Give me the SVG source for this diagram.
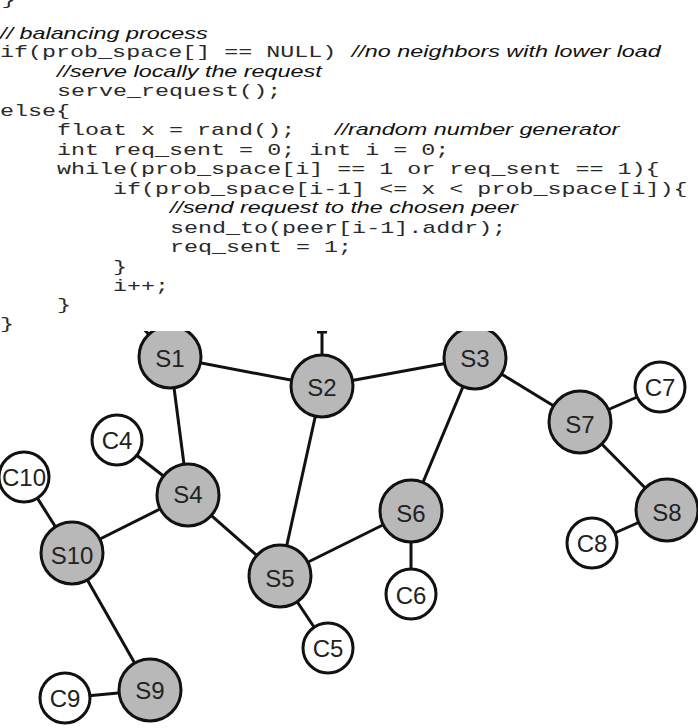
<svg xmlns="http://www.w3.org/2000/svg" width="698" height="728" viewBox="0 0 698 728">
<defs>
<style>
.code{font-family:"Liberation Mono","Courier New",monospace;font-size:16px;fill:#2a2a2a;}
.cmt{font-family:"Liberation Sans",Arial,sans-serif;font-size:16px;font-style:italic;fill:#111;}
.srv circle{fill:#b8b8b8;stroke:#111;stroke-width:3;}
.cli circle{fill:#fff;stroke:#111;stroke-width:3;}
.lbl{font-family:"Liberation Sans",Arial,sans-serif;font-size:24px;fill:#222;text-anchor:middle;dominant-baseline:central;}
.edges line{stroke:#111;stroke-width:3;}
</style>
<clipPath id="gclip"><rect x="0" y="331" width="698" height="397"/></clipPath>
</defs>
<rect width="698" height="728" fill="#fff"/>
<g id="code" transform="scale(1.46,1)" xml:space="preserve">
<text class="code" x="1" y="5">}</text>
<text class="cmt" x="0" y="39">// balancing process</text>
<text class="code" x="0" y="57.5">if(prob_space[] == NULL)</text>
<text class="cmt" x="241" y="57.5">//no neighbors with lower load</text>
<text class="cmt" x="39" y="77">//serve locally the request</text>
<text class="code" x="39" y="96.5">serve_request();</text>
<text class="code" x="0" y="116">else{</text>
<text class="code" x="39" y="135.5">float x = rand();</text>
<text class="cmt" x="229.5" y="135.5">//random number generator</text>
<text class="code" x="39" y="155">int req_sent = 0; int i = 0;</text>
<text class="code" x="39" y="174.5">while(prob_space[i] == 1 or req_sent == 1){</text>
<text class="code" x="77.4" y="194">if(prob_space[i-1] &lt;= x &lt; prob_space[i]){</text>
<text class="cmt" x="116.4" y="213.5">//send request to the chosen peer</text>
<text class="code" x="116.4" y="233">send_to(peer[i-1].addr);</text>
<text class="code" x="116.4" y="252.5">req_sent = 1;</text>
<text class="code" x="77.4" y="272">}</text>
<text class="code" x="77.4" y="291">i++;</text>
<text class="code" x="39" y="310.5">}</text>
<text class="code" x="0" y="329.5">}</text>
</g>
<g clip-path="url(#gclip)">
<g id="connectors" class="edges">
<line x1="170" y1="357" x2="140" y2="325"/>
<line x1="322" y1="386" x2="322" y2="325"/>
<line x1="317" y1="332" x2="327" y2="332"/>
<line x1="170" y1="357" x2="322" y2="386"/>
<line x1="170" y1="357" x2="188" y2="495"/>
<line x1="322" y1="386" x2="475" y2="358"/>
<line x1="322" y1="386" x2="280" y2="576"/>
<line x1="475" y1="358" x2="411" y2="511"/>
<line x1="475" y1="358" x2="580" y2="422"/>
<line x1="580" y1="422" x2="660" y2="387"/>
<line x1="580" y1="422" x2="667" y2="510"/>
<line x1="667" y1="510" x2="592" y2="543"/>
<line x1="188" y1="495" x2="117" y2="440"/>
<line x1="188" y1="495" x2="72" y2="553"/>
<line x1="188" y1="495" x2="280" y2="576"/>
<line x1="72" y1="553" x2="24" y2="477"/>
<line x1="72" y1="553" x2="150" y2="690"/>
<line x1="150" y1="690" x2="65" y2="698"/>
<line x1="280" y1="576" x2="411" y2="511"/>
<line x1="280" y1="576" x2="328" y2="648"/>
<line x1="411" y1="511" x2="411" y2="594"/>
</g>
<g id="S1" class="srv"><circle cx="170" cy="357" r="31"/><text class="lbl" x="170" y="358">S1</text></g>
<g id="S2" class="srv"><circle cx="322" cy="386" r="31"/><text class="lbl" x="322" y="387">S2</text></g>
<g id="S3" class="srv"><circle cx="475" cy="358" r="31"/><text class="lbl" x="475" y="358">S3</text></g>
<g id="S4" class="srv"><circle cx="188" cy="495" r="31"/><text class="lbl" x="188" y="494">S4</text></g>
<g id="S5" class="srv"><circle cx="280" cy="576" r="31"/><text class="lbl" x="280" y="578">S5</text></g>
<g id="S6" class="srv"><circle cx="411" cy="511" r="31"/><text class="lbl" x="411" y="513">S6</text></g>
<g id="S7" class="srv"><circle cx="580" cy="422" r="31"/><text class="lbl" x="580" y="424">S7</text></g>
<g id="S8" class="srv"><circle cx="667" cy="510" r="31"/><text class="lbl" x="667" y="512">S8</text></g>
<g id="S9" class="srv"><circle cx="150" cy="690" r="31"/><text class="lbl" x="150" y="690">S9</text></g>
<g id="S10" class="srv"><circle cx="72" cy="553" r="31"/><text class="lbl" x="72" y="555">S10</text></g>
<g id="C4" class="cli"><circle cx="117" cy="440" r="25"/><text class="lbl" x="117" y="440">C4</text></g>
<g id="C5" class="cli"><circle cx="328" cy="648" r="25"/><text class="lbl" x="328" y="648">C5</text></g>
<g id="C6" class="cli"><circle cx="411" cy="594" r="25"/><text class="lbl" x="411" y="595">C6</text></g>
<g id="C7" class="cli"><circle cx="660" cy="387" r="25"/><text class="lbl" x="660" y="387">C7</text></g>
<g id="C8" class="cli"><circle cx="592" cy="543" r="25"/><text class="lbl" x="592" y="543">C8</text></g>
<g id="C9" class="cli"><circle cx="65" cy="698" r="25"/><text class="lbl" x="65" y="698">C9</text></g>
<g id="C10" class="cli"><circle cx="24" cy="477" r="25"/><text class="lbl" x="24" y="477">C10</text></g>
</g>
</svg>
